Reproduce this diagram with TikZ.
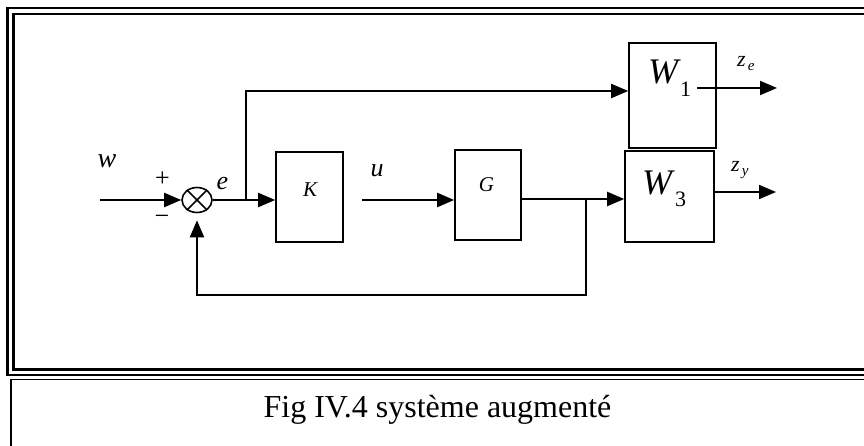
\documentclass[tikz,border=0pt]{standalone}
\usepackage{fontspec}
\setmainfont{Liberation Serif}
\usetikzlibrary{arrows.meta,shapes.geometric}

\newcommand{\fsz}[1]{\fontsize{#1}{#1}\selectfont}

\begin{document}
\begin{tikzpicture}[x=1pt, y=-1pt,
  block/.style={draw, line width=1.6pt, inner sep=0pt},
  sig/.style={line width=2pt},
  arr/.style={sig, -{Triangle[length=17pt,width=14pt]}},
  lbl/.style={inner sep=0pt, anchor=base, font=\fsz{26}\itshape}]
  \useasboundingbox (0,0) rectangle (864,446);
  \clip (0,0) rectangle (864,446);
  % frame and caption box
  \draw[line width=2.6pt] (7.5,8) rectangle (880,375);
  \draw[line width=2.6pt] (13.5,14) rectangle (875,369.5);
  \draw[line width=1.6pt] (11,379.5) rectangle (880,460);
  \node[inner sep=0pt, anchor=base, font=\fsz{32}] (cap) at (437.5,417) {Fig IV.4 système augmenté};

  % blocks
  \node[draw, ellipse, line width=1.6pt, minimum width=30pt, minimum height=25pt, inner sep=0pt] (sum) at (197,200) {};
  \draw[line width=1.6pt] (sum.135) -- (sum.-45) (sum.45) -- (sum.-135);
  \node[block, minimum width=67pt, minimum height=90pt] (K) at (309.5,197) {};
  \node[block, minimum width=66pt, minimum height=90pt] (G) at (488,195) {};
  \node[block, minimum width=87pt, minimum height=105pt] (W1) at (672.5,95.5) {};
  \node[block, minimum width=89pt, minimum height=91pt] (W3) at (669.5,196.5) {};

  % labels
  \node[lbl, font=\fsz{28}\itshape] (wl) at (107,168) {w};
  \node[inner sep=0pt, font=\fsz{26}] (plus) at (162.5,179) {+};
  \node[inner sep=0pt, font=\fsz{26}] (minus) at (162,220) {−};
  \node[lbl] (el) at (222.5,190) {e};
  \node[lbl] (ul) at (377,177) {u};
  \node[lbl, font=\fsz{21}\itshape] (Kl) at (310,197) {K};
  \node[lbl, font=\fsz{21}\itshape] (Gl) at (486.5,192) {G};
  \node[inner sep=0pt, anchor=base west, font=\fsz{36}\itshape] (W1l) at (648,84)
    {W\hspace{2pt}\raisebox{-13pt}{\fsz{22}\upshape 1}};
  \node[inner sep=0pt, anchor=base west, font=\fsz{36}\itshape] (W3l) at (642,195)
    {W\hspace{3pt}\raisebox{-12pt}{\fsz{22}\upshape 3}};
  \node[inner sep=0pt, anchor=base west, font=\fsz{22}\itshape] (zel) at (737,67)
    {z\hspace{2pt}\raisebox{-4pt}{\fsz{15}e}};
  \node[inner sep=0pt, anchor=base west, font=\fsz{22}\itshape] (zyl) at (731,172)
    {z\hspace{2pt}\raisebox{-4pt}{\fsz{15}y}};

  % signal points
  \coordinate (win) at (100,200);
  \coordinate (br1) at (246,200);
  \coordinate (uin) at (362,200);
  \coordinate (br2) at (586,199);
  \coordinate (fb) at (586,295);
  \coordinate (zein) at (697,88);
  \coordinate (zeout) at (777,88);
  \coordinate (zyout) at (776,192);

  % connectors
  \draw[arr] (win) -- (sum.west);
  \draw[arr] (sum.east) -- (K.west |- sum.east);
  \draw[arr] (br1) |- ([yshift=4.5pt]W1.west);
  \draw[arr] (uin) -- (G.west |- uin);
  \draw[arr] (G.east |- br2) -- (W3.west |- br2);
  \draw[arr, shorten >=7pt] (br2) -- (fb) -| (sum.south);
  \draw[arr] (zein) -- (zeout);
  \draw[arr] ([yshift=4.5pt]W3.east) -- (zyout);
\end{tikzpicture}
\end{document}
